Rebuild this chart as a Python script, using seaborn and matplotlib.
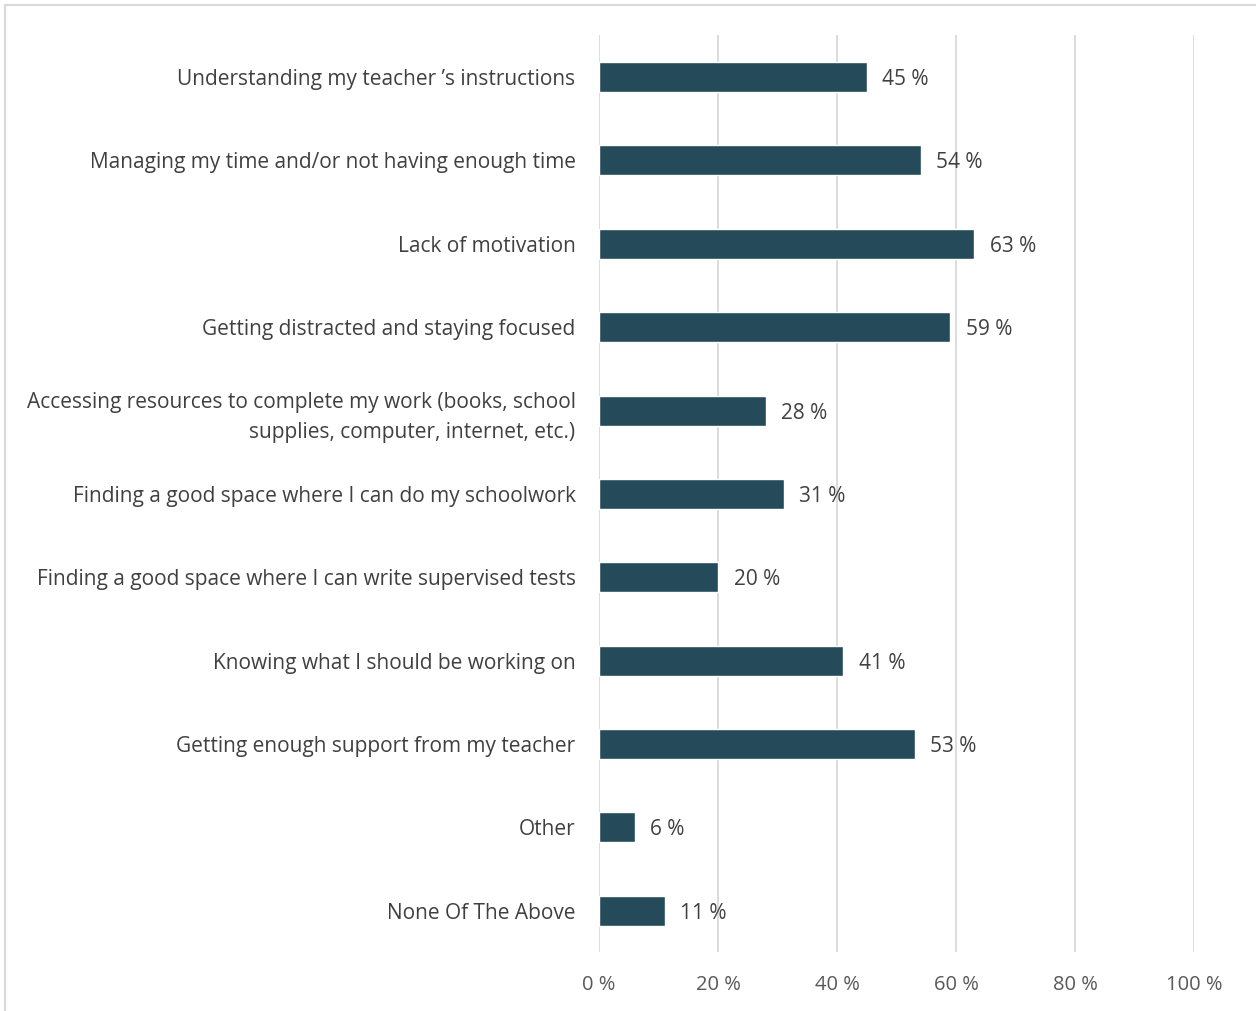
import matplotlib.pyplot as plt
import matplotlib.patches as mpatches
import pandas as pd
import seaborn as sns

# Data
categories = [
    "Understanding my teacher \u2019s instructions",
    "Managing my time and/or not having enough time",
    "Lack of motivation",
    "Getting distracted and staying focused",
    "Accessing resources to complete my work (books, school\nsupplies, computer, internet, etc.)",
    "Finding a good space where I can do my schoolwork",
    "Finding a good space where I can write supervised tests",
    "Knowing what I should be working on",
    "Getting enough support from my teacher",
    "Other",
    "None Of The Above",
]
values = [45, 54, 63, 59, 28, 31, 20, 41, 53, 6, 11]
x_ticks = [0, 20, 40, 60, 80, 100]

df = pd.DataFrame({"category": categories, "value": values})

sns.set_theme(style="white")
plt.rcParams['font.family'] = ['Open Sans', 'DejaVu Sans']

fig = plt.figure(figsize=(12.56, 10.11), dpi=100)
ax = fig.add_axes([0.477, 0.058, 0.474, 0.907])

sns.barplot(data=df, x="value", y="category", color="#254b5a", width=0.36,
            ax=ax, zorder=3, saturation=1)

ax.set_xlim(0, 100)
ax.set_xticks(x_ticks)
ax.set_xticklabels([f"{t} %" for t in x_ticks], fontsize=14.5, color="#595959")
ax.tick_params(axis='x', length=0, pad=16)
ax.tick_params(axis='y', length=0, pad=17)
for lbl in ax.get_yticklabels():
    lbl.set_fontsize(15)
    lbl.set_color("#404040")
    lbl.set_linespacing(1.55)
ax.grid(axis='x', color="#d9d9d9", linewidth=1.3, zorder=0)
ax.grid(axis='y', visible=False)
for s in ax.spines.values():
    s.set_visible(False)
ax.set_xlabel("")
ax.set_ylabel("")

for i, v in enumerate(values):
    ax.text(v + 2.6, i, f"{v} %", va='center_baseline', ha='left', fontsize=15,
            color="#404040")

# light frame around the chart area
fig.add_artist(mpatches.Rectangle((5 / 1256, -0.01), 1.0, 1 - 5 / 1011 + 0.01,
                                  transform=fig.transFigure, fill=False,
                                  edgecolor="#d9d9d9", linewidth=1.5))

fig.savefig("out.png", dpi=100)
